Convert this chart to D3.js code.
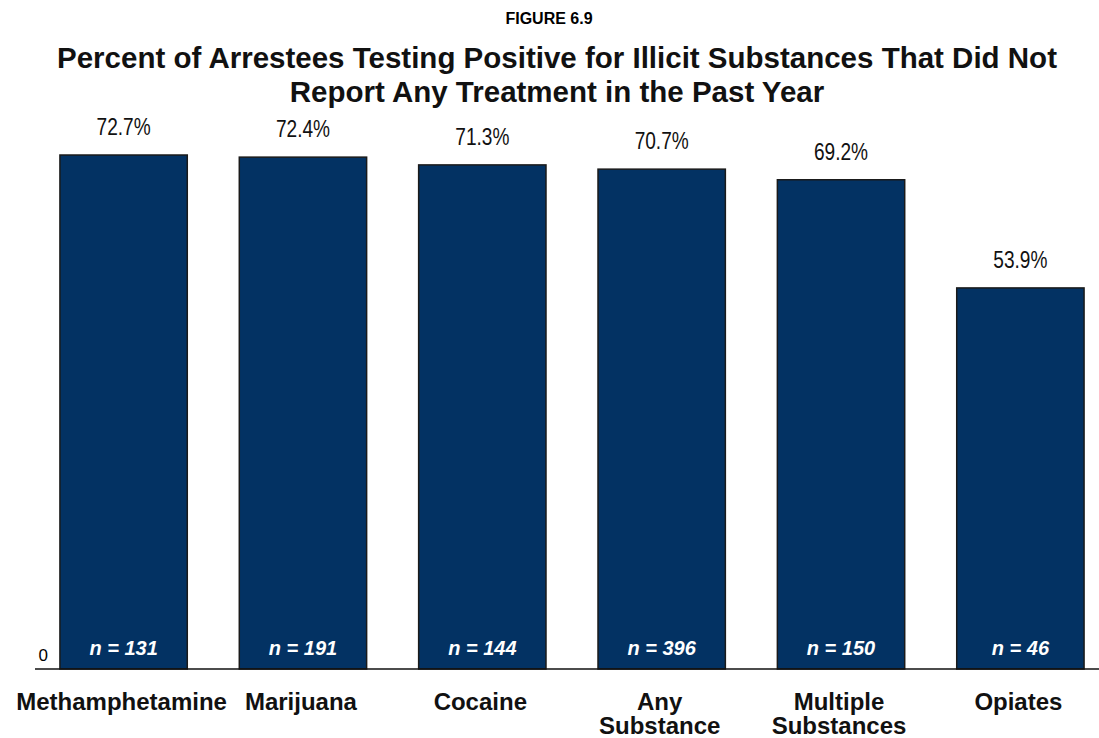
<!DOCTYPE html>
<html><head><meta charset="utf-8">
<script src="https://cdn.jsdelivr.net/npm/d3@7"></script>
<style>body{margin:0;background:#fff}</style>
</head><body>
<svg id="c" width="1099" height="738"></svg>
<script>
const categories = [["Methamphetamine"],["Marijuana"],["Cocaine"],["Any","Substance"],["Multiple","Substances"],["Opiates"]];
const values = [72.7, 72.4, 71.3, 70.7, 69.2, 53.9];
const nLabels = ["n = 131","n = 191","n = 144","n = 396","n = 150","n = 46"];
const yTicks = [0];

const svg = d3.select("#c");
const keys = categories.map(d => d.join(" "));
const x = d3.scaleBand().domain(keys).range([35, 1109]).paddingInner(0.29).paddingOuter(0.139);
const y = d3.scaleLinear().domain([0, 80]).range([669, 103.4]);

svg.append("text").attr("x", 549).attr("y", 24).attr("text-anchor","middle")
  .attr("font-family","Liberation Sans, Arial").attr("font-weight","bold").attr("font-size",16).text("FIGURE 6.9");
const titleLines = ["Percent of Arrestees Testing Positive for Illicit Substances That Did Not",
                    "Report Any Treatment in the Past Year"];
titleLines.forEach((t, i) => {
  svg.append("text").attr("x", 557).attr("y", 68 + i*34).attr("text-anchor","middle")
    .attr("font-family","Liberation Sans, Arial").attr("font-weight","bold").attr("font-size",29.5)
    .attr("fill","#111").text(t);
});

const g = svg.append("g");
g.selectAll("rect").data(values).join("rect")
  .attr("x", (d,i) => x(keys[i])).attr("y", d => y(d))
  .attr("width", x.bandwidth()).attr("height", d => y(0) - y(d))
  .attr("fill", "#033263").attr("stroke", "#1a1a1a").attr("stroke-width", 1.5);

g.selectAll("text.v").data(values).join("text").attr("class","v")
  .attr("transform", (d,i) => `translate(${x(keys[i]) + x.bandwidth()/2},${y(d) - 20}) scale(0.83,1)`)
  .attr("text-anchor","middle")
  .attr("font-family","Liberation Sans, Arial").attr("font-size",23)
  .attr("fill","#111").text(d => d.toFixed(1) + "%");

g.selectAll("text.n").data(nLabels).join("text").attr("class","n")
  .attr("x", (d,i) => x(keys[i]) + x.bandwidth()/2).attr("y", 655)
  .attr("text-anchor","middle")
  .attr("font-family","Liberation Sans, Arial").attr("font-weight","bold").attr("font-style","italic")
  .attr("font-size",20).attr("fill","#fff").text(d => d);

// baseline
svg.append("line").attr("x1", 35).attr("x2", 1099).attr("y1", y(0)).attr("y2", y(0))
  .attr("stroke","#111").attr("stroke-width",1.5);
svg.selectAll("text.yt").data(yTicks).join("text").attr("class","yt")
  .attr("x", 48).attr("y", d => y(d) - 8).attr("text-anchor","end")
  .attr("font-family","Liberation Sans, Arial").attr("font-size",17).text(d => d);

// x labels
categories.forEach((lines, i) => {
  const t = svg.append("text").attr("text-anchor","middle")
    .attr("font-family","Liberation Sans, Arial").attr("font-weight","bold").attr("font-size",24)
    .attr("fill","#111");
  lines.forEach((l, j) => {
    t.append("tspan").attr("x", x(keys[i]) + x.bandwidth()/2 - 2).attr("y", 710 + j*24).text(l);
  });
});
</script>
</body></html>
